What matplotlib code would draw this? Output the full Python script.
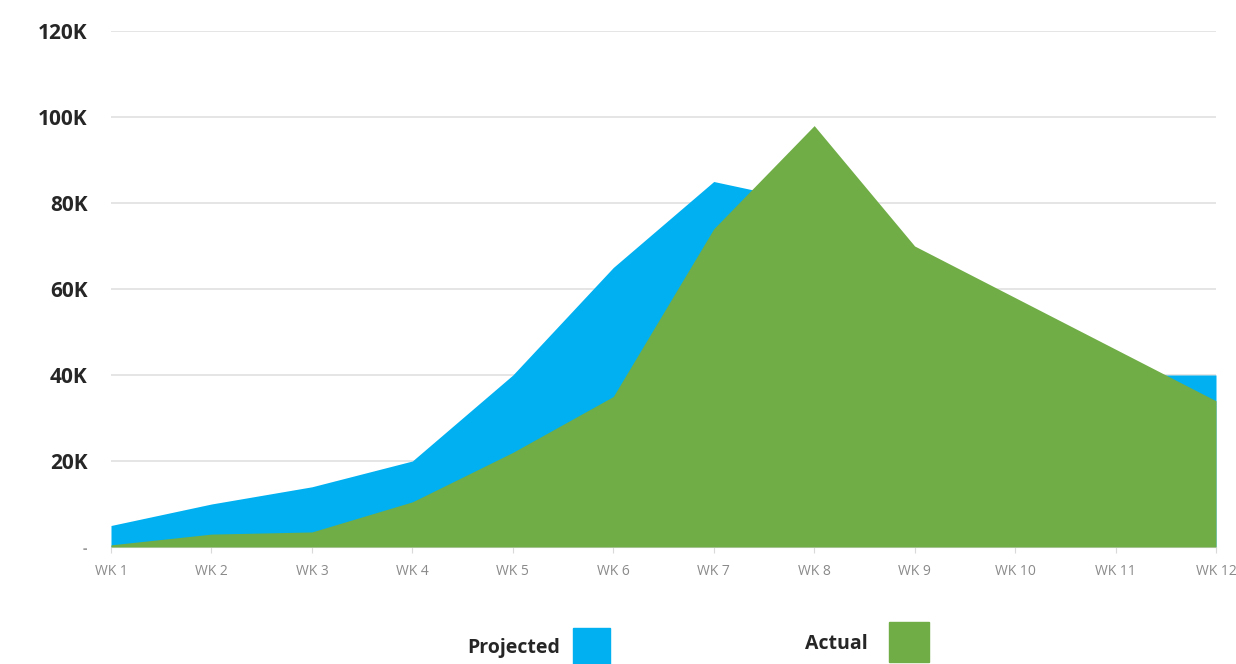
import matplotlib
matplotlib.use('Agg')
from matplotlib import pyplot as plt
from matplotlib.patches import Rectangle

weeks = ['WK 1', 'WK 2', 'WK 3', 'WK 4', 'WK 5', 'WK 6',
         'WK 7', 'WK 8', 'WK 9', 'WK 10', 'WK 11', 'WK 12']
projected = [5000, 10000, 14000, 20000, 40000, 65000,
             85000, 80000, 65000, 50000, 40000, 40000]
actual = [500, 3000, 3500, 10500, 22000, 35000,
          74000, 98000, 70000, 58000, 46000, 34000]
y_ticks = [0, 20000, 40000, 60000, 80000, 100000, 120000]
y_labels = ['-', '20K', '40K', '60K', '80K', '100K', '120K']

blue = '#00B0F0'
green = '#70AD47'

fig = plt.figure(figsize=(12.36, 6.64), dpi=100)
ax = fig.add_axes([111 / 1236, 1 - 547 / 664, 1105 / 1236, 516 / 664])

x = list(range(len(weeks)))
ax.fill_between(x, 0, projected, color=blue, linewidth=0, zorder=2)
ax.fill_between(x, 0, actual, color=green, linewidth=0, zorder=3)

ax.set_xlim(0, len(weeks) - 1)
ax.set_ylim(0, 120000)
ax.set_xticks(x)
ax.set_xticklabels(weeks, fontsize=10, color='#8a8a8a', family='Open Sans')
ax.set_yticks(y_ticks)
ax.set_yticklabels(y_labels, fontsize=15, fontweight='bold', color='#262626',
                   family='Open Sans')
ax.get_yticklabels()[0].set_color('#9a9a9a')
ax.get_yticklabels()[0].set_fontsize(10)
ax.tick_params(axis='y', length=0, pad=17)
ax.tick_params(axis='x', length=4, color='#d9d9d9', pad=8)
ax.grid(axis='y', color='#e3e3e3', linewidth=1.3, zorder=1)
ax.set_axisbelow(True)
for side in ['left', 'right', 'top']:
    ax.spines[side].set_visible(False)
ax.spines['bottom'].set_color('#d9d9d9')

# legend below the chart
fig.text(467 / 1236, 1 - 648 / 664, 'Projected', fontsize=14, fontweight='bold',
         family='Open Sans', color='#262626', va='center', ha='left')
fig.patches.append(Rectangle((573 / 1236, 0), 37 / 1236, 36 / 664,
                             transform=fig.transFigure, color=blue))
fig.text(805 / 1236, 1 - 644 / 664, 'Actual', fontsize=14, fontweight='bold',
         family='Open Sans', color='#262626', va='center', ha='left')
fig.patches.append(Rectangle((889 / 1236, 2 / 664), 40 / 1236, 40 / 664,
                             transform=fig.transFigure, color=green))

fig.savefig('out.png', dpi=100)
